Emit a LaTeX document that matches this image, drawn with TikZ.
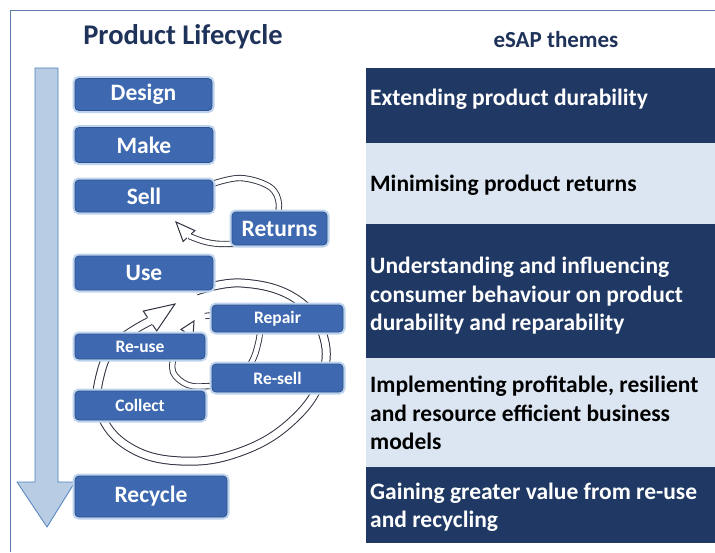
\documentclass[tikz,border=0pt]{standalone}
\usepackage{fontspec}
\setmainfont{Carlito}
\usetikzlibrary{calc}

\definecolor{navy}{RGB}{31,56,100}
\definecolor{paleband}{RGB}{220,230,242}
\definecolor{boxfill}{RGB}{62,105,176}
\definecolor{boxedge}{RGB}{46,82,142}
\definecolor{glow}{RGB}{190,212,238}
\definecolor{shaftfill}{RGB}{184,204,228}
\definecolor{shaftedge}{RGB}{79,129,189}
\definecolor{bandline}{RGB}{45,50,62}
\definecolor{framecol}{RGB}{95,125,170}
\definecolor{titlecol}{RGB}{30,50,90}

\tikzset{
  stage/.style={draw=boxedge, line width=0.8pt, fill=boxfill, rounded corners=4pt,
    text=white, inner sep=0pt, font=\bfseries\fontsize{23.5}{26}\selectfont,
    preaction={draw=glow, line width=5pt, rounded corners=4pt}},
  substage/.style={stage, font=\bfseries\fontsize{17.5}{20}\selectfont},
  theme/.style={fill=#1, inner sep=0pt, anchor=north west},
  themetext/.style={anchor=west, align=left, inner sep=0pt,
    font=\bfseries\fontsize{23.5}{28.5}\selectfont, text=#1},
  heading/.style={font=\bfseries\fontsize{#1}{30}\selectfont, text=titlecol},
  wideband/.style={draw=bandline, line width=1pt, double=white, double distance=7pt},
  slimband/.style={draw=bandline, line width=0.9pt, double=white, double distance=4.5pt},
  headfill/.style={draw=bandline, line width=1pt, fill=white, line join=miter},
}

% arrow head for a double band: base centre #1, tip #2, half width #3, shaft half width #4
\newcommand\bandtiphead[4]{%
  \filldraw[headfill] ($(#1)!#4!90:(#2)$) -- ($(#1)!#3!90:(#2)$) -- (#2)
     -- ($(#1)!#3!-90:(#2)$) -- ($(#1)!#4!-90:(#2)$);
}

\begin{document}
\begin{tikzpicture}[x=1pt,y=-1pt]
\useasboundingbox (0,0) rectangle (715,552);
\fill[white] (0,0) rectangle (715,552);

% outer frame
\draw[framecol, line width=0.9pt] (10,552) -- (10,10) -- (715,10);

% headings
\node[heading=28.5] (lifehead) at (183,37) {Product Lifecycle};
\node[heading=23] (esaphead) at (556,40) {eSAP themes};

% theme bands
\node[theme=navy, minimum width=349pt, minimum height=75pt] (band1) at (366,68) {};
\node[theme=paleband, minimum width=349pt, minimum height=81pt] (band2) at (366,143) {};
\node[theme=navy, minimum width=349pt, minimum height=134pt] (band3) at (366,224) {};
\node[theme=paleband, minimum width=349pt, minimum height=109pt] (band4) at (366,358) {};
\node[theme=navy, minimum width=349pt, minimum height=76pt] (band5) at (366,467) {};

\node[themetext=white] (t1) at (370,99) {Extending product durability};
\node[themetext=black] (t2) at (370,185) {Minimising product returns};
\node[themetext=white] (t3) at (370,296) {Understanding and influencing\\consumer behaviour on product\\durability and reparability};
\node[themetext=black] (t4) at (370,413) {Implementing profitable, resilient\\and resource efficient business\\models};
\node[themetext=white] (t5) at (370,507) {Gaining greater value from re-use\\and recycling};

% lifecycle timeline arrow
\filldraw[fill=shaftfill, draw=shaftedge, line width=0.8pt]
  (35,68) -- (58,68) -- (58,482) -- (75,482) -- (47,527) -- (17,482) -- (35,482) -- cycle;

% return loop from Sell
\coordinate (rbase) at (189,236);
\coordinate (rtip) at (176,222);
\draw[slimband] plot[smooth, tension=0.6] coordinates
  {(209,185) (240,178) (270,187) (279,205) (272,224) (250,241) (225,244) (206,242) (189,236)};
\bandtiphead{rbase}{rtip}{8pt}{3pt}

% large loop from Use
\coordinate (bbase) at (150,321);
\coordinate (btip) at (175,304);
\draw[wideband] plot[smooth, tension=0.7] coordinates
  {(196,291) (241,283) (293,297) (322,332) (322,377) (292,421) (240,452) (181,461)
   (129,447) (100,412) (101,372) (118,342) (150,321)};
\bandtiphead{bbase}{btip}{12pt}{4.5pt}

% repair / re-sell loop
\coordinate (sbase) at (187,333);
\coordinate (stip) at (194,321);
\draw[slimband] plot[smooth, tension=0.6] coordinates
  {(205,316) (235,315) (258,326) (257,348) (248,368) (232,383) (210,386) (188,385)
   (173,372) (175,352) (181,340) (187,333)};
\bandtiphead{sbase}{stip}{7pt}{3pt}

% lifecycle stages
\node[stage, minimum width=137pt, minimum height=32pt] (design) at (143.5,94.5) {Design};
\node[stage, minimum width=138pt, minimum height=35pt] (make) at (144,145) {Make};
\node[stage, minimum width=138pt, minimum height=32pt] (sell) at (144,196) {Sell};
\node[stage, minimum width=95pt, minimum height=33pt] (returns) at (279.5,228.5) {Returns};
\node[stage, minimum width=138pt, minimum height=34pt] (use) at (144,273) {Use};
\node[substage, minimum width=131pt, minimum height=27pt] (repair) at (277.5,318.5) {Repair};
\node[substage, minimum width=130pt, minimum height=25pt] (reuse) at (140,346.5) {Re-use};
\node[substage, minimum width=131pt, minimum height=28pt] (resell) at (277.5,378) {Re-sell};
\node[substage, minimum width=130pt, minimum height=29pt] (collect) at (140,405.5) {Collect};
\node[stage, minimum width=152pt, minimum height=41pt] (recycle) at (151,496.5) {Recycle};
\end{tikzpicture}
\end{document}
